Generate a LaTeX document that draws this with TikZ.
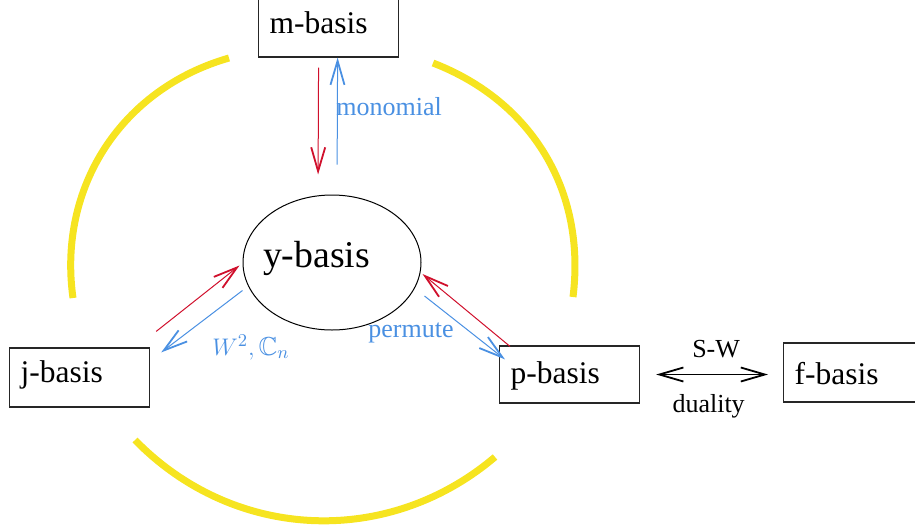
\documentclass[tikz,border=0pt]{standalone}
\usepackage{amssymb}
\usepackage{fontspec}
\setmainfont{Liberation Serif}
\usetikzlibrary{arrows.meta}
\usetikzlibrary{shapes,calc}
\definecolor{fwdred}{RGB}{208,16,44}
\definecolor{backblue}{RGB}{74,144,226}
\definecolor{ringyellow}{RGB}{246,228,32}
\tikzset{
    basisbox/.style={rectangle, draw=black!85, line width=0.6pt, inner xsep=5.5pt, inner ysep=0pt, text width=59pt, align=left, anchor=base west, font=\fontsize{15.75pt}{19pt}\selectfont},
    ybox/.style={ellipse, draw=black, line width=0.5pt, minimum width=89pt, minimum height=67.5pt, inner xsep=-3.1pt, inner ysep=0pt, text width=69pt, text height=10pt, text depth=5.5pt, align=left, font=\fontsize{18.9pt}{22pt}\selectfont},
    redarrow/.style={draw=fwdred, line width=0.5pt, -{Straight Barb[length=12pt,width=7pt,line width=0.9pt]}},
    bluearrow/.style={draw=backblue, line width=0.5pt, -{Straight Barb[length=12pt,width=7pt,line width=0.9pt]}},
    dualarrow/.style={draw=black, line width=0.5pt, {Straight Barb[length=12pt,width=7pt,line width=0.9pt]}-{Straight Barb[length=12pt,width=7pt,line width=0.9pt]}},
    mylabel/.style={font=\fontsize{13pt}{15pt}\selectfont, inner sep=0pt},
    ring/.style={draw=ringyellow, line width=3.5pt}
}
\begin{document}
\begin{tikzpicture}[x=0.5pt,y=-0.5pt]
    \useasboundingbox (0,0) rectangle (915,531);
    \draw[ring] (73,298) to[bend left=41] (229,58);
    \draw[ring] (433,63) to[bend left=38] (573,297);
    \draw[ring] (135,440) to[bend right=43] (495,457);
    \node[basisbox, text height=17pt, text depth=12pt] (mb) at (258,33) {m-basis};
    \node[ybox] (yb) at (332,262.5) {y-basis};
    \node[basisbox, text height=17pt, text depth=12.5pt] (jb) at (9,382) {j-basis};
    \node[basisbox, text height=18.5pt, text depth=10pt] (pb) at (499,383) {p-basis};
    \node[basisbox, text height=20.5pt, text depth=9pt] (fb) at (783,384) {f-basis};
    \draw[redarrow, shorten <=5pt, shorten >=10pt] ([xshift=-5pt]mb.south) -- ([xshift=-7pt]yb.north);
    \draw[bluearrow, shorten <=15pt] ([xshift=2.5pt]yb.north) -- ([xshift=4.5pt]mb.south);
    \node[mylabel, text=backblue, anchor=base west] (monolbl) at (336,115) {monomial};
    \draw[redarrow] ($(jb.north east)+(6,-16)$) -- ($(yb.west)+(-3,3)$);
    \draw[bluearrow] ($(yb.west)+(0,28)$) -- ($(jb.north east)+(11,5)$);
    \node[mylabel, text=backblue, anchor=base west] (wlbl) at (212,355) {$W^2,\mathbb{C}_n$};
    \draw[redarrow] ($(pb.north west)+(11,1)$) -- ($(yb.east)+(1,11.5)$);
    \draw[bluearrow] ($(yb.east)+(3,33.5)$) -- ($(pb.north west)+(6,14)$);
    \node[mylabel, text=backblue, anchor=base west] (permlbl) at (368,337) {permute};
    \draw[dualarrow, shorten <=8pt, shorten >=7.5pt] (pb.east) -- (pb.east -| fb.west)
        node[midway, mylabel, anchor=base, xshift=2.25pt, yshift=8.75pt] (swlbl) {S-W}
        node[midway, mylabel, anchor=base, xshift=-1.5pt, yshift=-18.75pt] (duallbl) {duality};
\end{tikzpicture}
\end{document}
